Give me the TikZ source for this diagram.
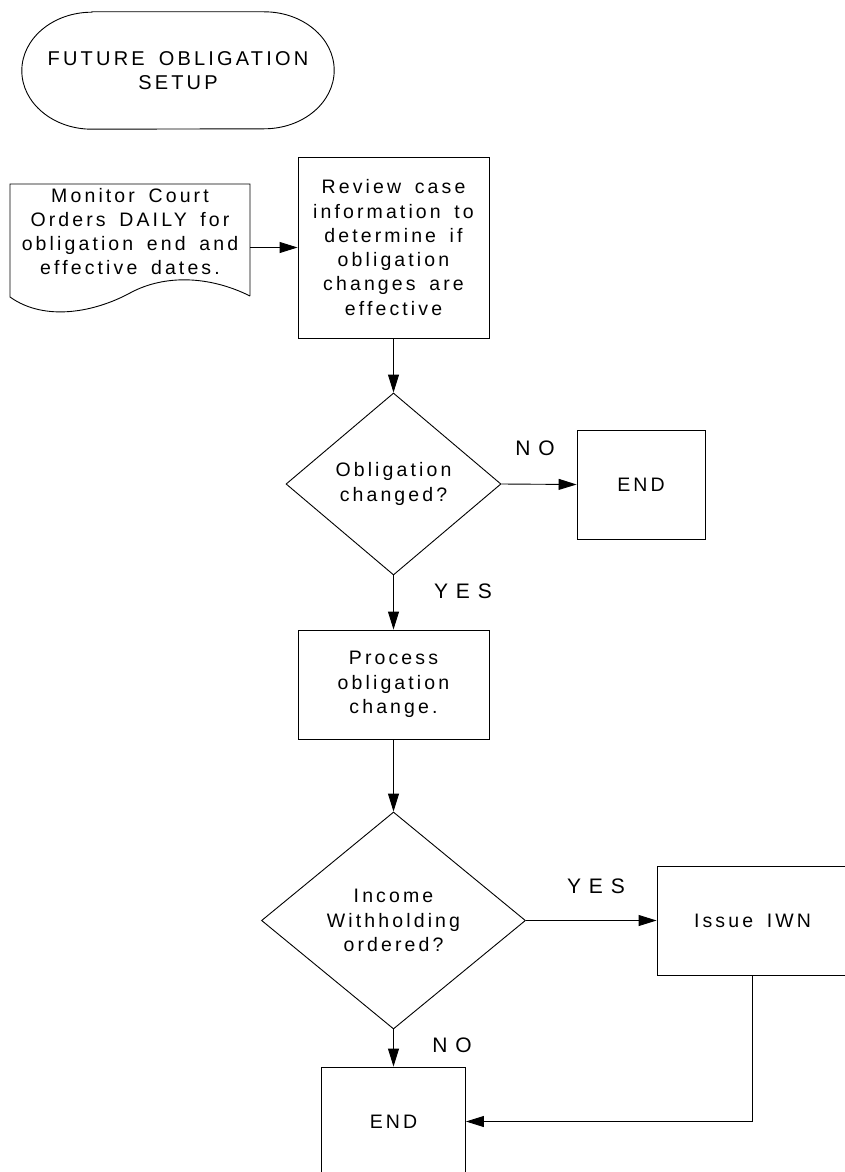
\documentclass[tikz,border=0pt]{standalone}
\usepackage{fontspec}
\setmainfont{Liberation Sans}
\newfontfamily\boxfont{Liberation Sans}[LetterSpace=16, WordSpace=1.6]
\newfontfamily\tagfont{Liberation Sans}[LetterSpace=38]
\usetikzlibrary{shapes.geometric,arrows.meta,calc}

\begin{document}
\begin{tikzpicture}[x=1pt,y=1pt,
  txt/.style={font=\boxfont\fontsize{19.5}{24.3}\selectfont, align=center, inner sep=0pt},
  proc/.style={txt, draw, line width=0.9pt, minimum width=191pt, minimum height=109pt},
  decision/.style={txt, draw, diamond, line width=0.9pt},
  tag/.style={font=\tagfont\fontsize{21}{24}\selectfont, inner sep=0pt},
  outline/.style={line width=0.9pt},
  flow/.style={line width=0.9pt, -{Triangle[length=18pt,width=11pt]}}
]
\useasboundingbox (0,0) rectangle (844,-1172);

% start terminator with elliptical ends
\node[txt, font=\boxfont\fontsize{20}{23.5}\selectfont,
      minimum width=312pt, minimum height=117pt] (start) at (178,-70.5)
      {FUTURE OBLIGATION\\SETUP};
\draw[outline] ($(start.north west)+(70,0)$) -- ($(start.north east)+(-70,0)$)
  arc[start angle=90, end angle=-90, x radius=70pt, y radius=58.5pt]
  -- ($(start.south west)+(70,0)$)
  arc[start angle=270, end angle=90, x radius=70pt, y radius=58.5pt] -- cycle;

% document shape
\node[minimum width=240pt, minimum height=113pt, inner sep=0pt] (doc) at (130,-240.5) {};
\node[txt] (doctext) at (130,-231.5) {Monitor Court\\Orders DAILY for\\obligation end and\\effective dates.};
\draw[outline] (250,-296) -- (250,-184) -- (10,-184) -- (10,-297)
  .. controls (45,-322) and (95,-312) .. (130,-293)
  .. controls (165,-274) and (210,-276) .. (250,-296);

% process steps and decisions
\node[proc, minimum height=181pt] (review) at (393.5,-247.5)
  {Review case\\information to\\determine if\\obligation\\changes are\\effective};
\node[decision, minimum width=215pt, minimum height=182pt] (d1) at (393.5,-484)
  {Obligation\\changed?};
\node[proc, minimum width=128pt] (end1) at (641,-484.5) {END};
\node[proc] (process) at (393.5,-684.5) {Process\\obligation\\change.};
\node[decision, minimum width=264pt, minimum height=217pt] (d2) at (393.5,-920.5)
  {Income\\Withholding\\ordered?};
\node[proc] (iwn) at (752.5,-920.5) {Issue IWN};
\node[proc, minimum width=144pt] (end2) at (393.5,-1121.5) {END};

% branch labels
\node[tag] (no1) at (535,-448) {NO};
\node[tag] (yes1) at (463,-591) {YES};
\node[tag] (yes2) at (596,-886) {YES};
\node[tag] (no2) at (452,-1045) {NO};

% connectors
\draw[flow] (doc.east |- review.west) -- (review.west);
\draw[flow] (review.south) -- (d1.north);
\draw[flow] (d1.east) -- (end1.west);
\draw[flow] (d1.south) -- (process.north);
\draw[flow] (process.south) -- (d2.north);
\draw[flow] (d2.east) -- (iwn.west);
\draw[flow] (d2.south) -- (end2.north);
\draw[flow] (iwn.south) |- (end2.east);
\end{tikzpicture}
\end{document}
